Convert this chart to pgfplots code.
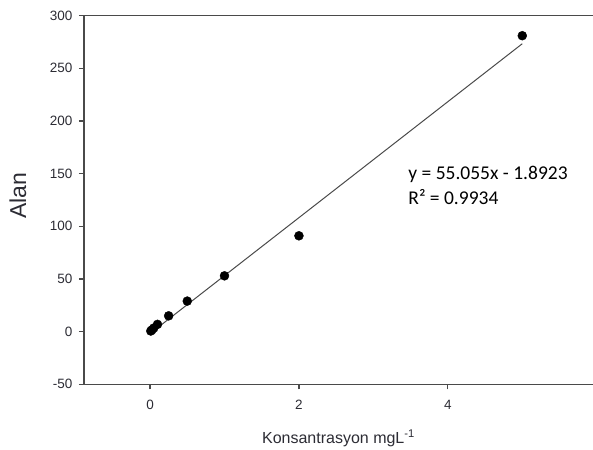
\documentclass[border=0pt]{standalone}
\usepackage{pgfplots}
\pgfplotsset{compat=1.18}
\usepackage{fontspec}
\setmainfont{Liberation Sans}
\newfontfamily\eqfont{Carlito}

\definecolor{axisgray}{HTML}{4A4A4A}
\definecolor{ticktext}{HTML}{2C2C34}
\definecolor{fitgray}{HTML}{4A4A4A}

\begin{document}
\begin{tikzpicture}
\begin{axis}[
  name=ax,
  scale only axis,
  width=509pt, height=368.6pt,
  xmin=-0.887, xmax=5.95,
  ymin=-50, ymax=300,
  xtick={0,2,4},
  ytick={-50,0,50,100,150,200,250,300},
  axis x line=box, axis y line=left,
  axis line style={-, draw=axisgray, line width=1.3pt},
  xtick pos=bottom, ytick pos=left,
  tick align=outside,
  major tick length=5pt,
  tick style={axisgray, line width=1.2pt},
  /pgf/number format/assume math mode=true,
  ticklabel style={font=\fontsize{13.5}{15}\selectfont, text=ticktext},
  yticklabel style={xshift=-3pt},
  xticklabel style={yshift=-7pt},
  xlabel={Konsantrasyon mgL\textsuperscript{-1}},
  xlabel style={font=\fontsize{16}{18}\selectfont, text=ticktext,
                at={(axis description cs:0.5,0)}, anchor=center, yshift=-53.7pt},
  ylabel={Alan},
  ylabel style={font=\fontsize{23}{26}\selectfont, text=ticktext,
                at={(axis description cs:-0.1297,0.511)}, anchor=center},
  clip=false,
]
  % linear fit y = 55.055x - 1.8923
  \addplot[fitgray, line width=1pt] coordinates {(0.01,-1.34) (5,273.38)};
  % calibration standards
  \addplot[only marks, mark=*, mark size=4.5pt, black] coordinates {
    (0.01,0.6) (0.025,1.6) (0.05,3.4) (0.1,6.9) (0.25,15)
    (0.5,29) (1,53) (2,91) (5,281)
  };
  \node[anchor=base west, inner sep=0pt, font=\eqfont\fontsize{19.5}{24}\selectfont]
    at (axis cs:3.468,144.6) {y = 55.055x - 1.8923};
  \node[anchor=base west, inner sep=0pt, font=\eqfont\fontsize{19.5}{24}\selectfont]
    at (axis cs:3.468,120.9) {R² = 0.9934};
\end{axis}
\pgfresetboundingbox
\path[use as bounding box] ([shift={(-84pt,-65.7pt)}]ax.south west)
  rectangle ([shift={(0pt,15.7pt)}]ax.north east);
\end{tikzpicture}
\end{document}
